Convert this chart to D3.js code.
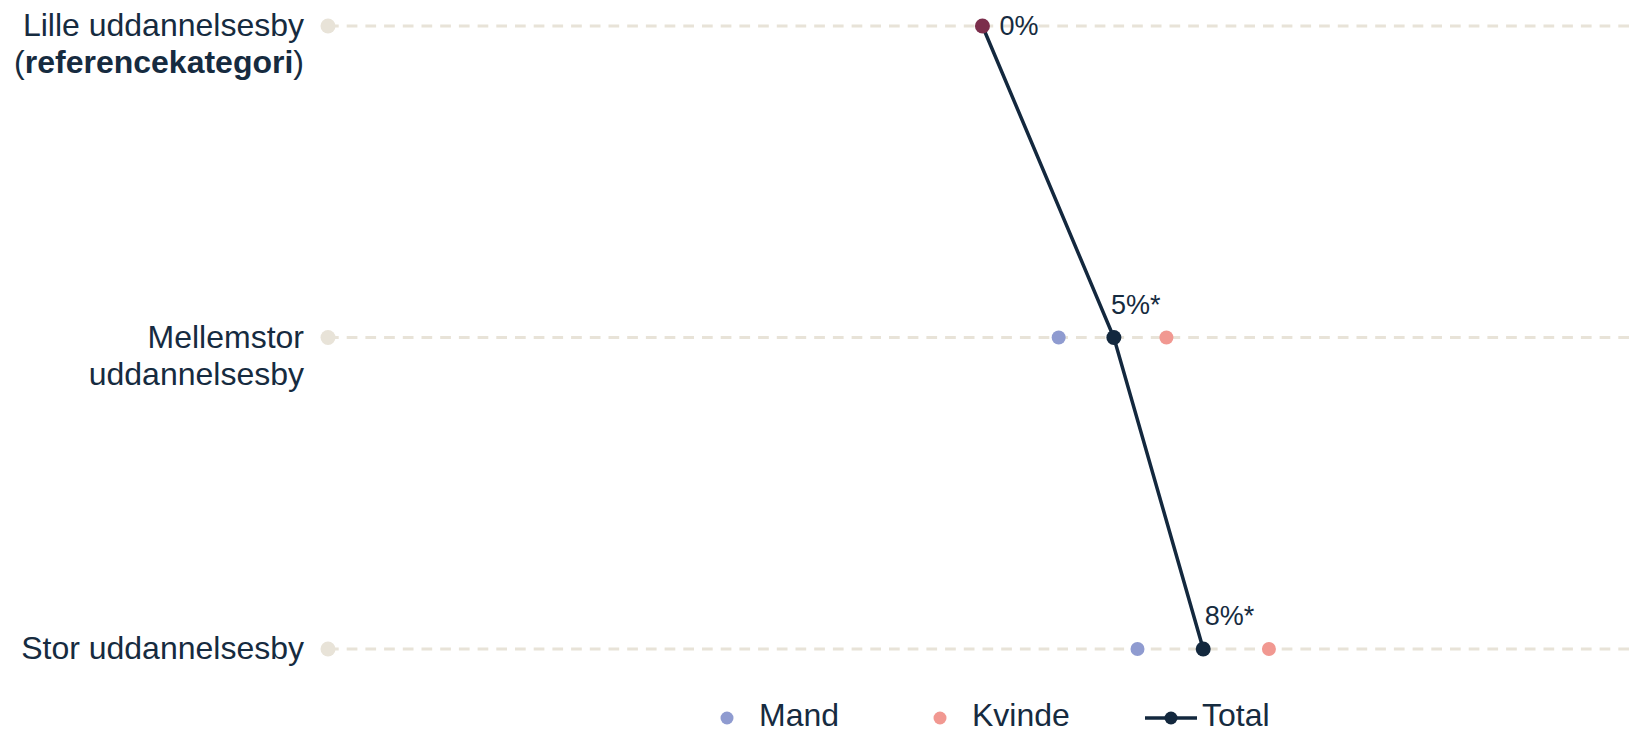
<!DOCTYPE html>
<html>
<head>
<meta charset="utf-8">
<script src="https://cdn.jsdelivr.net/npm/d3@7"></script>
<style>
  body { margin: 0; background: #fff; }
  text { font-family: "Liberation Sans", Arial, sans-serif; fill: #162b40; }
</style>
</head>
<body>
<div id="chart"></div>
<script>
const w = 1629;
const h = 733;

// data
const categories = ["Lille uddannelsesby", "Mellemstor uddannelsesby", "Stor uddannelsesby"];
const mand = [null, 2.9, 5.9];
const kvinde = [null, 7.0, 10.9];
const total = [0, 5.0, 8.4];
const totalLabels = ["0%", "5%*", "8%*"];
const isReference = [true, false, false];

const navy = "#13283e";
const colMand = "#8f9bd0";
const colKvinde = "#f19891";
const colRef = "#7b2e4c";
const beige = "#e8e3d8";

const svg = d3.select("#chart")
  .append("svg")
  .attr("width", w)
  .attr("height", h);

const x = d3.scaleLinear().domain([-24.9, 24.6]).range([328, 1629]);
const y = d3.scalePoint().domain(categories).range([26, 649]);

// grid lines + start dots
svg.selectAll("line.grid")
  .data(categories)
  .enter()
  .append("line")
  .attr("class", "grid")
  .attr("x1", x.range()[0])
  .attr("x2", x.range()[1])
  .attr("y1", d => y(d))
  .attr("y2", d => y(d))
  .attr("stroke", beige)
  .attr("stroke-width", 3)
  .attr("stroke-dasharray", "10.7,8");

svg.selectAll("circle.start")
  .data(categories)
  .enter()
  .append("circle")
  .attr("class", "start")
  .attr("cx", x.range()[0])
  .attr("cy", d => y(d))
  .attr("r", 7.5)
  .attr("fill", beige);

// category labels
const labelX = 304;
svg.selectAll("text.cat")
  .data(categories)
  .enter()
  .append("text")
  .attr("class", "cat")
  .attr("x", labelX)
  .attr("y", d => y(d) + 10)
  .attr("text-anchor", "end")
  .attr("font-size", "32px")
  .each(function (d, i) {
    const t = d3.select(this);
    if (i === 0) {
      t.append("tspan").attr("x", labelX).text("Lille uddannelsesby");
      const l2 = t.append("tspan").attr("x", labelX).attr("dy", 37);
      l2.append("tspan").text("(");
      l2.append("tspan").attr("font-weight", "bold").text("referencekategori");
      l2.append("tspan").text(")");
    } else if (i === 1) {
      t.append("tspan").attr("x", labelX).text("Mellemstor");
      t.append("tspan").attr("x", labelX).attr("dy", 37).text("uddannelsesby");
    } else {
      t.text(d);
    }
  });

// total line
const line = d3.line()
  .x(d => x(d.v))
  .y(d => y(d.c));
const totalPts = categories.map((c, i) => ({ c: c, v: total[i], i: i }));

svg.append("path")
  .datum(totalPts)
  .attr("d", line)
  .attr("fill", "none")
  .attr("stroke", navy)
  .attr("stroke-width", 3.5);

// gender dots
const genderPts = [];
categories.forEach((c, i) => {
  if (mand[i] != null) genderPts.push({ c: c, v: mand[i], col: colMand });
  if (kvinde[i] != null) genderPts.push({ c: c, v: kvinde[i], col: colKvinde });
});

svg.selectAll("circle.g")
  .data(genderPts)
  .enter()
  .append("circle")
  .attr("class", "g")
  .attr("cx", d => x(d.v))
  .attr("cy", d => y(d.c))
  .attr("r", 7)
  .attr("fill", d => d.col);

svg.selectAll("circle.t")
  .data(totalPts)
  .enter()
  .append("circle")
  .attr("class", "t")
  .attr("cx", d => x(d.v))
  .attr("cy", d => y(d.c))
  .attr("r", 7.5)
  .attr("fill", d => (isReference[d.i] ? colRef : navy));

// value labels: reference to the right, others above, just right of the incoming line
svg.selectAll("text.val")
  .data(totalPts)
  .enter()
  .append("text")
  .attr("class", "val")
  .attr("font-size", "27px")
  .attr("x", (d, i) => {
    if (isReference[i]) return x(d.v) + 17;
    const prev = totalPts[i - 1];
    const ly = y(d.c) - 33;
    const f = (ly - y(prev.c)) / (y(d.c) - y(prev.c));
    return x(prev.v) + f * (x(d.v) - x(prev.v)) + 11;
  })
  .attr("y", (d, i) => (isReference[i] ? y(d.c) + 9 : y(d.c) - 24))
  .text((d, i) => totalLabels[i]);

// legend
const legY = 718;
const legend = [
  { name: "Mand", col: colMand, type: "dot", x: 727 },
  { name: "Kvinde", col: colKvinde, type: "dot", x: 940 },
  { name: "Total", col: navy, type: "line", x: 1171 }
];

legend.forEach(item => {
  const g = svg.append("g");
  if (item.type === "line") {
    g.append("line")
      .attr("x1", item.x - 26).attr("x2", item.x + 26)
      .attr("y1", legY).attr("y2", legY)
      .attr("stroke", item.col).attr("stroke-width", 3.5);
  }
  g.append("circle").attr("cx", item.x).attr("cy", legY).attr("r", 6.5).attr("fill", item.col);
  g.append("text")
    .attr("x", item.x + (item.type === "line" ? 31 : 32))
    .attr("y", legY + 8)
    .attr("font-size", "32px")
    .text(item.name);
});
</script>
</body>
</html>
